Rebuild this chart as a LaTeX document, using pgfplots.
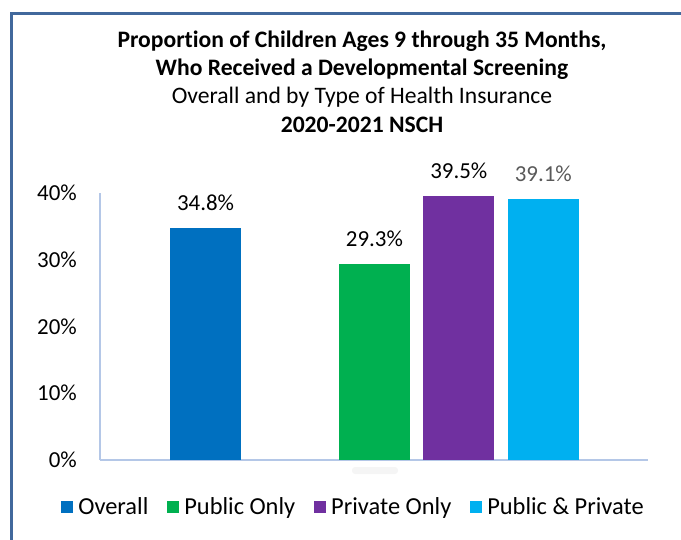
\documentclass[border=0pt]{standalone}
\usepackage{fontspec}
\setmainfont{Carlito}[Ligatures=NoCommon]
\usepackage{pgfplots}
\pgfplotsset{compat=1.18}

\definecolor{cOverall}{HTML}{0070C0}
\definecolor{cPublic}{HTML}{00B050}
\definecolor{cPrivate}{HTML}{7030A0}
\definecolor{cBoth}{HTML}{00B0F0}
\definecolor{axisblue}{HTML}{B4C7E7}
\definecolor{frameblue}{HTML}{41689C}
\definecolor{labgray}{HTML}{595959}

\newcommand{\chartfont}{\fontsize{23}{27}\selectfont}
\newcommand{\titlefont}{\fontsize{23.7}{28}\selectfont}

\begin{document}
\begin{tikzpicture}
\path[use as bounding box] (0bp,0bp) rectangle (681bp,-540bp);
% frame
\draw[frameblue, line width=3bp] (11bp,-540bp) -- (11bp,-13bp) -- (681bp,-13bp);

% title
\node[anchor=base, font=\titlefont\bfseries] at (362bp,-47bp) {Proportion of Children Ages 9 through 35 Months,};
\node[anchor=base, font=\titlefont\bfseries] at (362bp,-75bp) {Who Received a Developmental Screening};
\node[anchor=base, font=\titlefont] at (362bp,-103bp) {Overall and by Type of Health Insurance};
\node[anchor=base, font=\titlefont\bfseries] at (362bp,-132bp) {2020-2021 NSCH};

% faint hidden tick label smear
\fill[black!4, rounded corners=3bp] (352bp,-467bp) rectangle (398bp,-474bp);

\begin{axis}[
    at={(100bp,-460bp)}, anchor=south west,
    scale only axis,
    width=548bp, height=267bp,
    xmin=-1.25, xmax=5.24,
    ymin=0, ymax=40,
    axis x line*=bottom,
    axis y line*=left,
    axis line style={-, draw=axisblue, line width=1.5bp},
    xtick=\empty,
    ytick={0,10,20,30,40},
    yticklabel={\pgfmathprintnumber{\tick}\%},
    /pgf/number format/assume math mode=true,
    major tick length=0pt,
    yticklabel style={font=\chartfont, inner sep=0pt, xshift=-23bp},
    ybar, bar width=71bp, bar shift=0pt,
    nodes near coords={\pgfmathprintnumber[fixed, fixed zerofill, precision=1]{\pgfplotspointmeta}\%},
    every node near coord/.append style={font=\chartfont, text=black, yshift=14bp},
    legend columns=4,
    legend style={draw=none, fill=none, at={(0.4626,-0.176)}, anchor=center,
        font=\fontsize{24.5}{28}\selectfont,
        /tikz/every odd column/.append style={column sep=3bp},
        /tikz/every even column/.append style={column sep=17bp}},
    legend image code/.code={\draw[#1, draw=none] (0bp,-6bp) rectangle (12bp,6bp);},
    clip=false,
]
\addplot[fill=cOverall, draw=none] coordinates {(0,34.8)};
\addlegendentry{Overall}
\addplot[fill=cPublic, draw=none] coordinates {(2,29.3)};
\addlegendentry{Public Only}
\addplot[fill=cPrivate, draw=none] coordinates {(3,39.5)};
\addlegendentry{Private Only}
\addplot[fill=cBoth, draw=none, every node near coord/.append style={text=labgray}] coordinates {(4,39.1)};
\addlegendentry{Public \& Private}
\end{axis}
\end{tikzpicture}
\end{document}
